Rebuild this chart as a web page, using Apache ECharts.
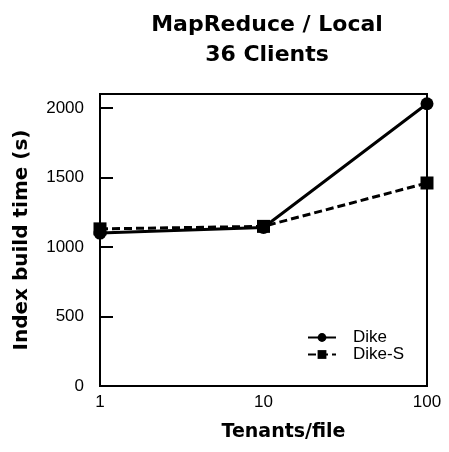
<!DOCTYPE html>
<html>
<head>
<meta charset="utf-8">
<script src="https://cdn.jsdelivr.net/npm/echarts@6/dist/echarts.min.js"></script>
<style>
  html, body { margin: 0; padding: 0; background: #fff; }
  #chart { width: 449px; height: 452px; }
</style>
</head>
<body>
<div id="chart"></div>
<script>
// Tenants per file (log-scaled x axis)
var tenants = [1, 10, 100];
// Index build time in seconds
var dike = [1100, 1140, 2030];
var dikeS = [1130, 1148, 1460];
// Axis ticks
var xTicks = [1, 10, 100];
var yTicks = [0, 500, 1000, 1500, 2000];

function pairs(xs, ys) {
  return xs.map(function (x, i) { return [x, ys[i]]; });
}

var chart = echarts.init(document.getElementById('chart'), null, { renderer: 'canvas' });

var boldFont = '"DejaVu Sans", "Liberation Sans", sans-serif';
var plainFont = '"Liberation Sans", Arial, sans-serif';

chart.setOption({
  animation: false,
  backgroundColor: '#ffffff',
  title: {
    text: 'MapReduce / Local\n36 Clients',
    left: 262,
    top: 5,
    textAlign: 'center',
    textStyle: {
      fontFamily: boldFont,
      fontWeight: 'bold',
      fontSize: 22,
      lineHeight: 30,
      color: '#000'
    }
  },
  grid: {
    left: 100,
    right: 22,
    top: 94,
    bottom: 66,
    show: true,
    borderColor: '#000',
    borderWidth: 2,
    backgroundColor: 'transparent'
  },
  legend: {
    left: 302,
    top: 324,
    orient: 'vertical',
    itemWidth: 28,
    itemHeight: 11,
    itemGap: 0,
    textStyle: {
      fontFamily: plainFont,
      fontSize: 17,
      color: '#000',
      padding: [0, 0, 0, 12]
    },
    data: ['Dike', 'Dike-S']
  },
  xAxis: {
    type: 'log',
    logBase: 10,
    min: xTicks[0],
    max: xTicks[xTicks.length - 1],
    name: 'Tenants/file',
    nameLocation: 'middle',
    nameGap: 37,
    nameTextStyle: {
      fontFamily: boldFont,
      fontWeight: 'bold',
      fontSize: 19,
      color: '#000',
      padding: [0, 0, 0, 40]
    },
    axisLine: { show: true, lineStyle: { color: '#000', width: 2 } },
    axisTick: { show: false },
    minorTick: { show: false },
    splitLine: { show: false },
    axisLabel: {
      fontFamily: plainFont,
      fontSize: 17,
      color: '#000',
      margin: 8,
      formatter: function (v) { return String(Math.round(v)); }
    }
  },
  yAxis: {
    type: 'value',
    min: yTicks[0],
    max: 2100,
    interval: 500,
    name: 'Index build time (s)',
    nameLocation: 'middle',
    nameGap: 68,
    nameTextStyle: {
      fontFamily: boldFont,
      fontWeight: 'bold',
      fontSize: 20,
      color: '#000'
    },
    axisLine: { show: true, lineStyle: { color: '#000', width: 2 } },
    axisTick: { show: true, inside: true, length: 13, lineStyle: { color: '#000', width: 2 } },
    splitLine: { show: false },
    axisLabel: {
      fontFamily: plainFont,
      fontSize: 17,
      color: '#000',
      margin: 16,
      showMaxLabel: false,
      formatter: function (v) { return yTicks.indexOf(v) >= 0 ? String(v) : ''; }
    }
  },
  series: [
    {
      name: 'Dike-S',
      type: 'line',
      data: pairs(tenants, dikeS),
      symbol: 'rect',
      symbolSize: 13,
      itemStyle: { color: '#000' },
      lineStyle: { color: '#000', width: 3, type: [8, 4] },
      z: 2
    },
    {
      name: 'Dike',
      type: 'line',
      data: pairs(tenants, dike),
      symbol: 'circle',
      symbolSize: 13,
      itemStyle: { color: '#000' },
      lineStyle: { color: '#000', width: 3, type: 'solid' },
      z: 3
    }
  ]
});
</script>
</body>
</html>
